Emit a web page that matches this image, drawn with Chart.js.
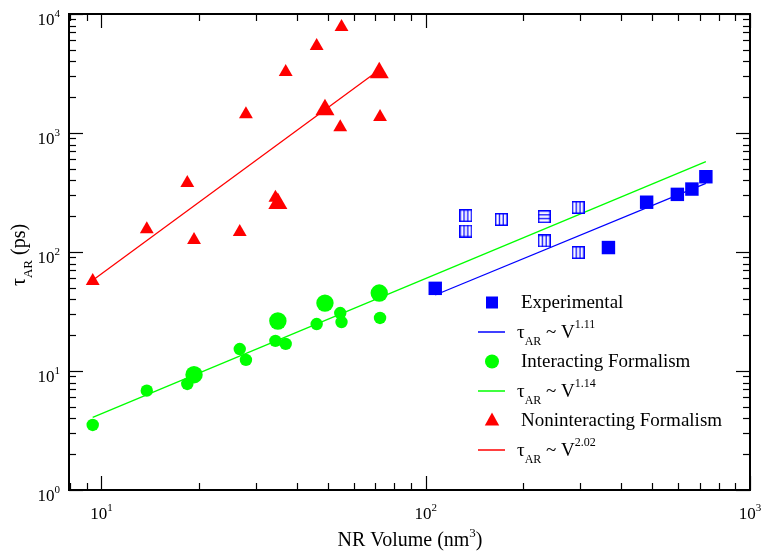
<!DOCTYPE html>
<html>
<head>
<meta charset="utf-8">
<script src="https://cdn.jsdelivr.net/npm/chart.js@4.4.0/dist/chart.umd.min.js"></script>
<style>
  html, body { margin: 0; padding: 0; background: #fff; }
</style>
</head>
<body>
<canvas id="chart" width="761" height="554"></canvas>
<script>
// NR volumes (nm^3) and relaxation times (ps)
const expVol = [107, 366, 480, 597, 662, 731];
const expTau = [49.5, 109, 262, 305, 338, 429];
const expOpenVol = [133, 133, 171, 232, 232, 295, 295];
const expOpenTau = [202, 150, 188, 198, 124, 237, 99];
const expOpenStripe = ['v', 'v', 'v', 'h', 'v', 'v', 'v'];

const formVol = [9.4, 13.8, 18.4, 19.3, 26.7, 27.9, 34.4, 35.0, 37.0, 46.1, 48.9, 54.5, 55.0, 71.9, 72.3];
const interTau = [3.52, 6.84, 7.78, 9.31, 15.3, 12.4, 17.9, 26.3, 16.9, 24.8, 37.2, 30.7, 25.8, 45.2, 27.9];
const noninterTau = [57, 155, 380, 126, 147, 1440, 285, 255, 3250, 5390, 1570, 1120, 7780, 3210, 1360];

// fitted power laws, two end points each
const fitExpVol = [107, 731];
const fitExpTau = [43.5, 378];
const fitInterVol = [9.4, 731];
const fitInterTau = [4.08, 574];
const fitNonVol = [9.4, 72];
const fitNonTau = [58, 3400];

const seriesNames = ['Experimental', 'Interacting Formalism', 'Noninteracting Formalism'];
const fitExponents = ['1.11', '1.14', '2.02'];

const xTickExp = [1, 2, 3];
const yTickExp = [0, 1, 2, 3, 4];

const FONT = '"Liberation Serif", "Times New Roman", serif';
const BLUE = '#0000ff', GREEN = '#00ff00', RED = '#ff0000';
const bigCircles = [3, 7, 10, 13];
const bigTriangles = [7, 10, 13];

const pts = (xs, ys) => xs.map((v, i) => ({x: v, y: ys[i]}));

function stripedSquare(horizontal) {
    const s = 13, c = document.createElement('canvas');
    c.width = s; c.height = s;
    const g = c.getContext('2d');
    g.fillStyle = '#fff';
    g.fillRect(0, 0, s, s);
    g.strokeStyle = BLUE;
    g.lineWidth = 1.5;
    g.strokeRect(0.75, 0.75, s - 1.5, s - 1.5);
    g.lineWidth = 1.3;
    for (const p of [4.6, 8.4]) {
        g.beginPath();
        if (horizontal) { g.moveTo(0, p); g.lineTo(s, p); }
        else { g.moveTo(p, 0); g.lineTo(p, s); }
        g.stroke();
    }
    return c;
}
const vStripe = stripedSquare(false);
const hStripe = stripedSquare(true);

function richText(ctx, parts, x, y, align) {
    let w = 0;
    for (const p of parts) {
        ctx.font = p.size + 'px ' + FONT;
        p.w = ctx.measureText(p.t).width;
        w += p.w;
    }
    let cx = align === 'center' ? x - w / 2 : align === 'right' ? x - w : x;
    ctx.textAlign = 'left';
    ctx.textBaseline = 'alphabetic';
    for (const p of parts) {
        ctx.font = p.size + 'px ' + FONT;
        ctx.fillText(p.t, cx, y + (p.dy || 0));
        cx += p.w;
    }
}

const tauParts = e => [
    {t: 'τ', size: 19}, {t: 'AR', size: 12, dy: 7},
    {t: ' ~ V', size: 19}, {t: e, size: 12, dy: -10}
];

const frame = {
    id: 'frame',
    afterDraw(chart) {
        const {ctx, chartArea: a, scales: {x, y}} = chart;
        ctx.save();
        ctx.strokeStyle = '#000';
        ctx.fillStyle = '#000';
        ctx.lineWidth = 2;
        ctx.strokeRect(a.left, a.top, a.right - a.left, a.bottom - a.top);

        const seg = (x1, y1, x2, y2) => { ctx.beginPath(); ctx.moveTo(x1, y1); ctx.lineTo(x2, y2); ctx.stroke(); };
        ctx.lineWidth = 1.2;
        for (let e = 0; e <= 4; e++) {
            for (let m = 1; m <= 9; m++) {
                const v = m * Math.pow(10, e);
                const len = m === 1 ? 14 : 7;
                if (v >= x.min * 0.999 && v <= x.max * 1.001) {
                    const px = Math.round(x.getPixelForValue(v)) + 0.5;
                    seg(px, a.bottom, px, a.bottom - len);
                    seg(px, a.top, px, a.top + len);
                }
                if (v >= y.min * 0.999 && v <= y.max * 1.001) {
                    const py = Math.round(y.getPixelForValue(v)) + 0.5;
                    seg(a.left, py, a.left + len, py);
                    seg(a.right, py, a.right - len, py);
                }
            }
        }

        for (const e of xTickExp) {
            const px = x.getPixelForValue(Math.pow(10, e));
            richText(ctx, [{t: '10', size: 17}, {t: String(e), size: 11, dy: -8}], px, a.bottom + 29, 'center');
        }
        for (const e of yTickExp) {
            const py = y.getPixelForValue(Math.pow(10, e));
            richText(ctx, [{t: '10', size: 17}, {t: String(e), size: 11, dy: -8}], 60, py + 10.5, 'right');
        }

        richText(ctx, [{t: 'NR Volume (nm', size: 20}, {t: '3', size: 13, dy: -9}, {t: ')', size: 20}], 410, 546, 'center');
        ctx.save();
        ctx.translate(25, 255);
        ctx.rotate(-Math.PI / 2);
        richText(ctx, [{t: 'τ', size: 20}, {t: 'AR', size: 13, dy: 7}, {t: ' (ps)', size: 20}], 0, 0, 'center');
        ctx.restore();

        // legend
        const colors = [BLUE, GREEN, RED];
        const lx = 492, tx = 521;
        for (let i = 0; i < 3; i++) {
            const ym = 302.5 + i * 59;
            const yl = ym + 29.5;
            ctx.fillStyle = colors[i];
            ctx.beginPath();
            if (i === 0) ctx.rect(lx - 6, ym - 6, 12, 12);
            else if (i === 1) ctx.arc(lx, ym, 7, 0, Math.PI * 2);
            else { ctx.moveTo(lx, ym - 8); ctx.lineTo(lx + 7.2, ym + 5); ctx.lineTo(lx - 7.2, ym + 5); ctx.closePath(); }
            ctx.fill();
            ctx.strokeStyle = colors[i];
            ctx.lineWidth = 1.5;
            seg(478, yl, 505, yl);
            ctx.fillStyle = '#000';
            richText(ctx, [{t: seriesNames[i], size: 19}], tx, ym + 5, 'left');
            richText(ctx, tauParts(fitExponents[i]), tx - 4, yl + 5.5, 'left');
        }
        ctx.restore();
    }
};

new Chart(document.getElementById('chart'), {
    type: 'scatter',
    data: {
        datasets: [
            {label: seriesNames[0], data: pts(expVol, expTau), pointStyle: 'rect', pointRadius: 9.5,
             backgroundColor: BLUE, borderColor: BLUE, borderWidth: 0},
            {label: seriesNames[0] + ' (open)', data: pts(expOpenVol, expOpenTau),
             pointStyle: expOpenStripe.map(s => s === 'h' ? hStripe : vStripe), pointRadius: 6},
            {label: seriesNames[1], data: pts(formVol, interTau), pointStyle: 'circle',
             pointRadius: c => bigCircles.includes(c.dataIndex) ? 8.7 : 6.2,
             backgroundColor: GREEN, borderColor: GREEN, borderWidth: 0},
            {label: seriesNames[2], data: pts(formVol, noninterTau), pointStyle: 'triangle',
             pointRadius: c => bigTriangles.includes(c.dataIndex) ? 11 : 8,
             backgroundColor: RED, borderColor: RED, borderWidth: 0},
            {label: 'fit exp', data: pts(fitExpVol, fitExpTau), showLine: true, pointRadius: 0,
             borderColor: BLUE, borderWidth: 1.3},
            {label: 'fit inter', data: pts(fitInterVol, fitInterTau), showLine: true, pointRadius: 0,
             borderColor: GREEN, borderWidth: 1.3},
            {label: 'fit nonint', data: pts(fitNonVol, fitNonTau), showLine: true, pointRadius: 0,
             borderColor: RED, borderWidth: 1.3}
        ]
    },
    options: {
        responsive: false,
        animation: false,
        layout: {padding: {left: 69, right: 11, top: 14, bottom: 64}},
        plugins: {legend: {display: false}, tooltip: {enabled: false}},
        scales: {
            x: {type: 'logarithmic', min: Math.pow(10, 0.9), max: 1000, display: false},
            y: {type: 'logarithmic', min: 1, max: 10000, display: false}
        }
    },
    plugins: [frame]
});
</script>
</body>
</html>
